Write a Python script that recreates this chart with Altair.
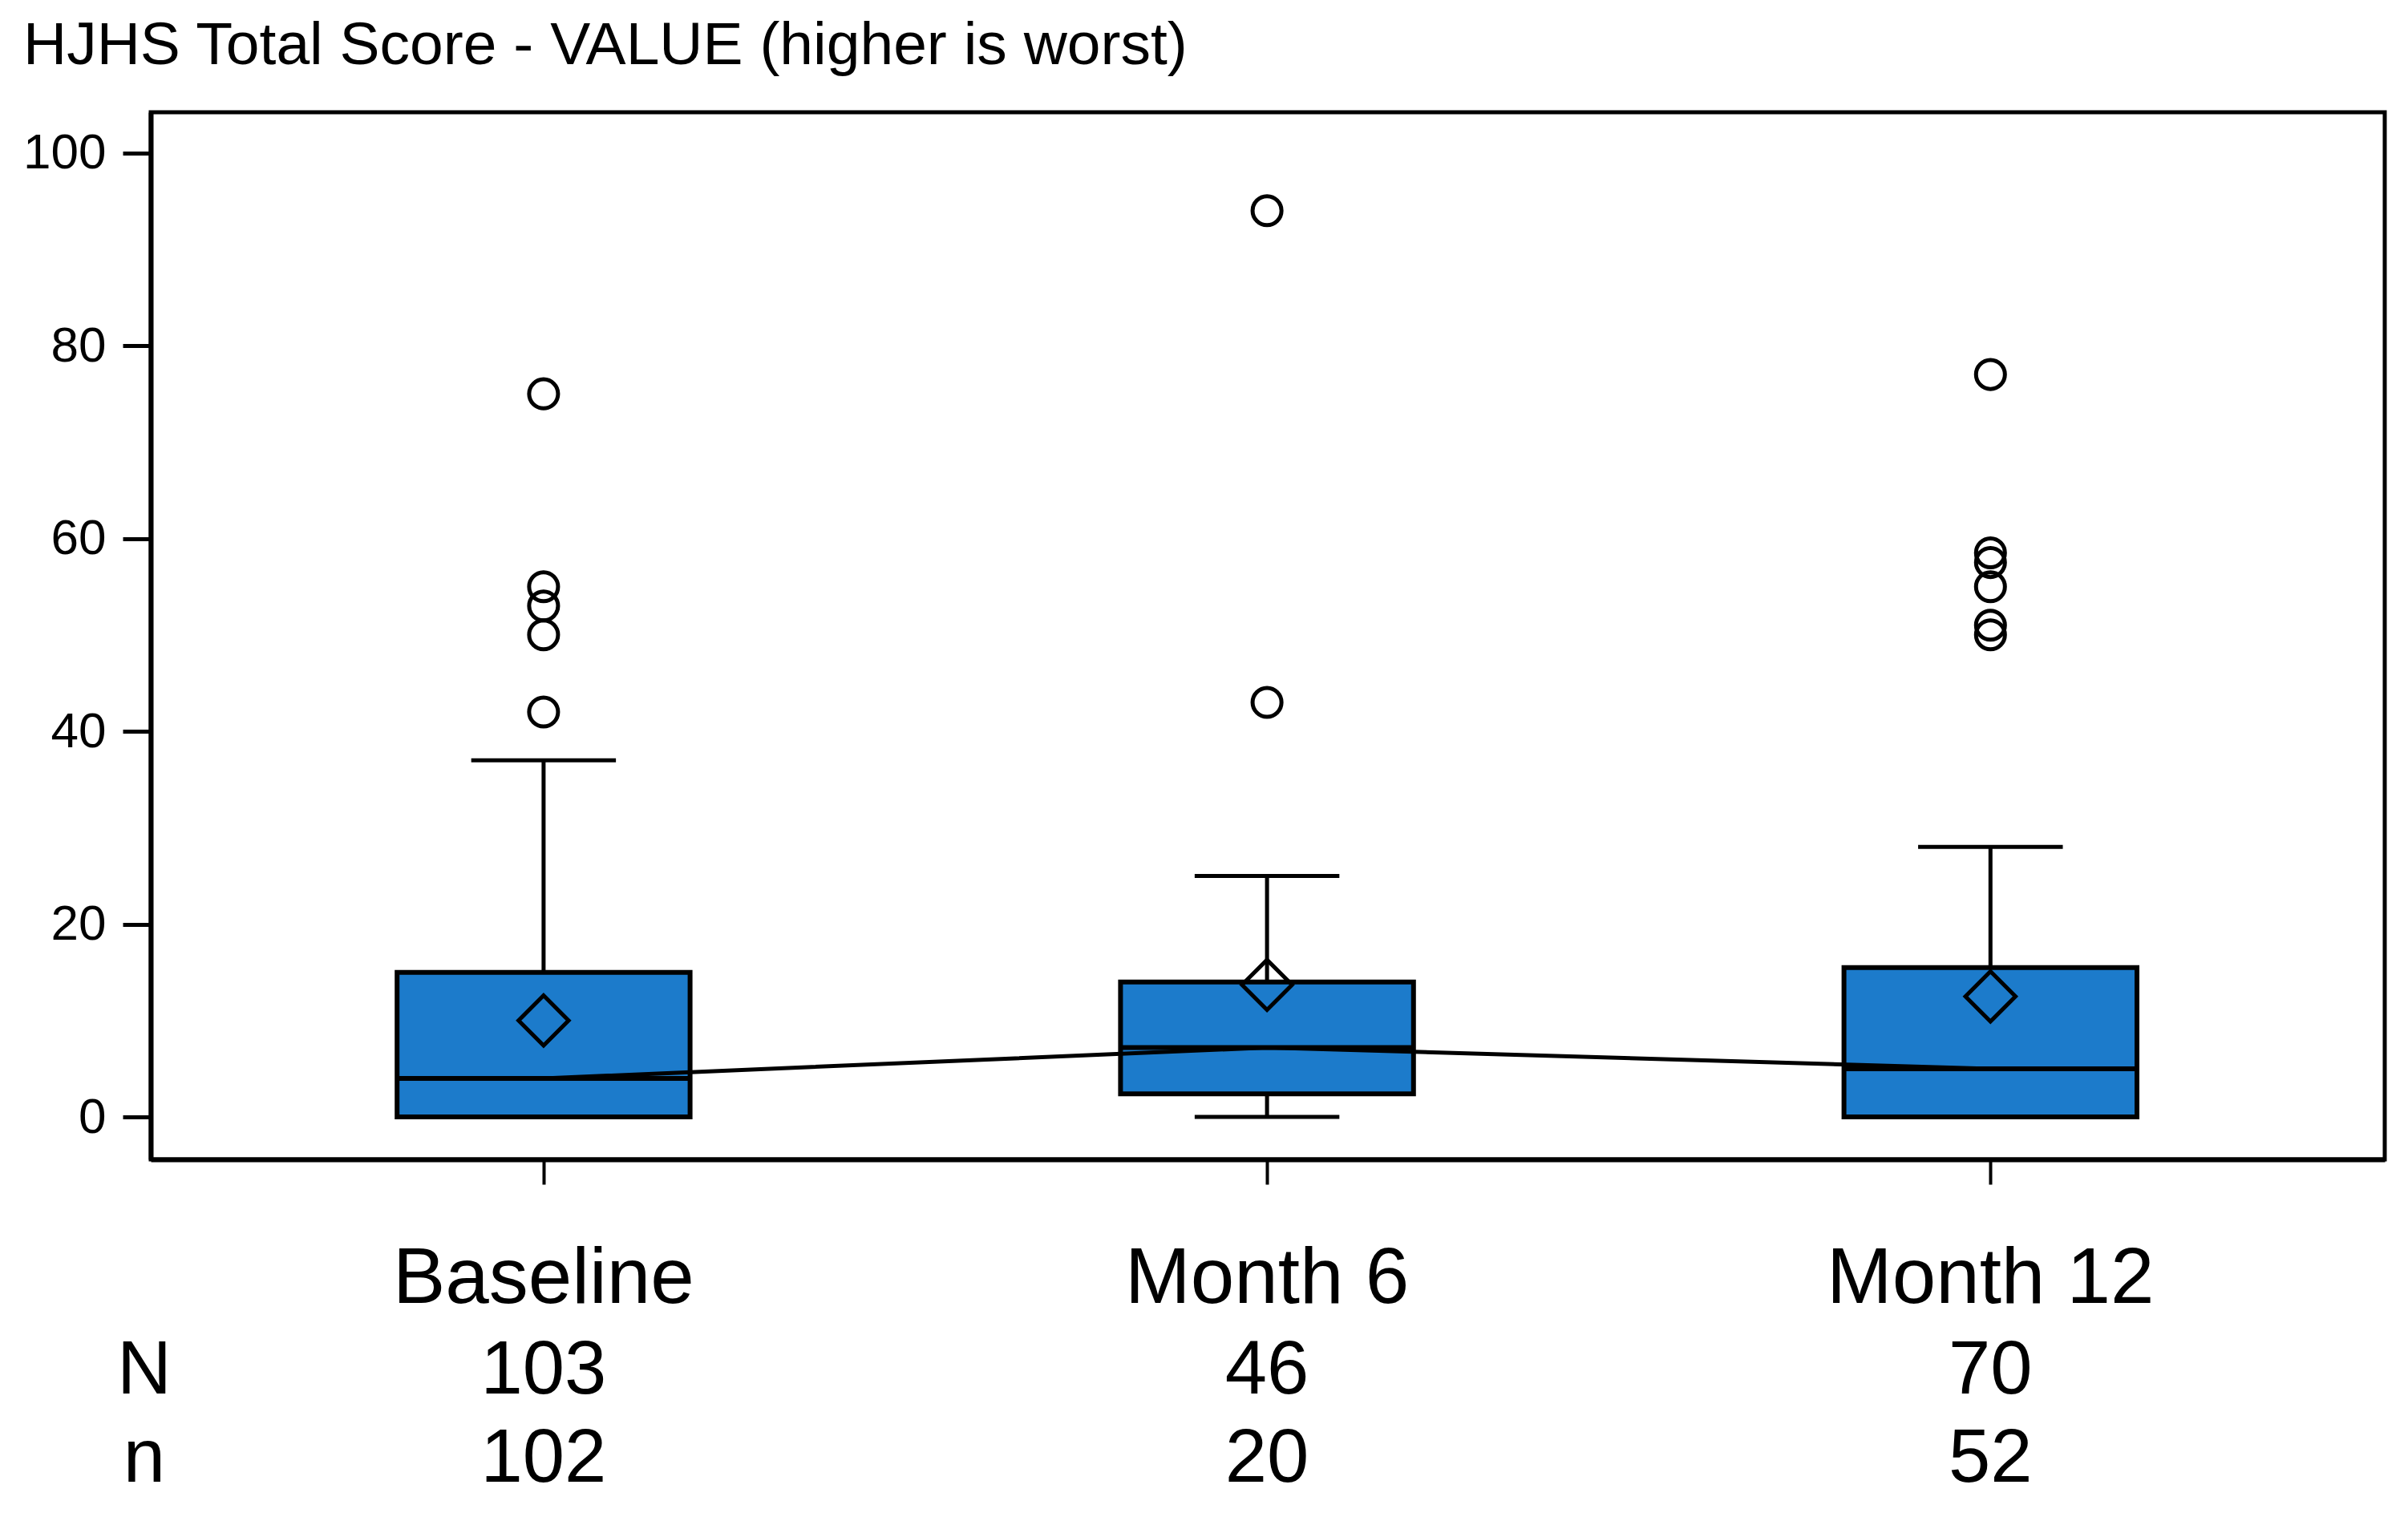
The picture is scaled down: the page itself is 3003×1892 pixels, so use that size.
import altair as alt
import pandas as pd

# ---- data ----
categories = ["Baseline", "Month 6", "Month 12"]
cat_index = [0, 1, 2]
q1 = [0, 2.4, 0]
median = [4, 7.2, 5]
q3 = [15, 14, 15.5]
mean = [10, 13.7, 12.5]
whisker_low = [0, 0, 0]
whisker_high = [37, 25, 28]
N_values = [103, 46, 70]
n_values = [102, 20, 52]

outliers_baseline = [75, 55, 53, 50, 42]
outliers_month6 = [94, 43]
outliers_month12 = [77, 58.5, 57.5, 55, 51, 50]

title_text = "HJHS Total Score - VALUE (higher is worst)"
y_ticks = [0, 20, 40, 60, 80, 100]

FONT = "Liberation Sans"
BLUE = "#1c7bcb"

box_df = pd.DataFrame({
    "idx": cat_index, "category": categories, "q1": q1, "median": median,
    "q3": q3, "mean": mean, "lo": whisker_low, "hi": whisker_high,
    "N": N_values, "n": n_values,
})
out_rows = []
for i, vals in zip(cat_index, [outliers_baseline, outliers_month6, outliers_month12]):
    for v in vals:
        out_rows.append({"idx": i, "value": v})
out_df = pd.DataFrame(out_rows)

xscale = alt.Scale(domain=[-0.543, 2.545], nice=False, zero=False)
yscale = alt.Scale(domain=[-4.4, 104.2], nice=False, zero=False)
xaxis = alt.Axis(values=[0, 1, 2], labels=False, title=None, grid=False,
                 tickSize=31, tickWidth=4, tickColor="black",
                 domainColor="black", domainWidth=6)
yaxis = alt.Axis(values=y_ticks, title=None, grid=False, tickSize=35, tickWidth=5,
                 tickColor="black", domainColor="black", domainWidth=6,
                 labelFontSize=62, labelFont=FONT, labelColor="black",
                 labelPadding=21)

base = alt.Chart(box_df).transform_calculate(
    lo_x="datum.idx - 0.2025", hi_x="datum.idx + 0.2025",
    cap_lo="datum.idx - 0.1", cap_hi="datum.idx + 0.1",
)

LW = 5

whisk_up = base.mark_rule(color="black", strokeWidth=LW).encode(
    x=alt.X("idx:Q", scale=xscale, axis=xaxis),
    y=alt.Y("q3:Q", scale=yscale, axis=yaxis),
    y2="hi:Q",
)
whisk_down = base.mark_rule(color="black", strokeWidth=LW).encode(
    x=alt.X("idx:Q", scale=xscale, axis=xaxis),
    y=alt.Y("lo:Q", scale=yscale, axis=yaxis),
    y2="q1:Q",
)
cap_up = base.mark_rule(color="black", strokeWidth=LW).encode(
    x=alt.X("cap_lo:Q", scale=xscale, axis=xaxis), x2="cap_hi:Q",
    y=alt.Y("hi:Q", scale=yscale, axis=yaxis),
)
cap_down = base.mark_rule(color="black", strokeWidth=LW).encode(
    x=alt.X("cap_lo:Q", scale=xscale, axis=xaxis), x2="cap_hi:Q",
    y=alt.Y("lo:Q", scale=yscale, axis=yaxis),
)
boxes = base.mark_rect(fill=BLUE, stroke="black", strokeWidth=6).encode(
    x=alt.X("lo_x:Q", scale=xscale, axis=xaxis), x2="hi_x:Q",
    y=alt.Y("q1:Q", scale=yscale, axis=yaxis), y2="q3:Q",
)
med_lines = base.mark_rule(color="black", strokeWidth=6).encode(
    x=alt.X("lo_x:Q", scale=xscale, axis=xaxis), x2="hi_x:Q",
    y=alt.Y("median:Q", scale=yscale, axis=yaxis),
)
connect = alt.Chart(box_df).mark_line(color="black", strokeWidth=5).encode(
    x=alt.X("idx:Q", scale=xscale, axis=xaxis),
    y=alt.Y("median:Q", scale=yscale, axis=yaxis),
)
means = alt.Chart(box_df).mark_point(shape="diamond", size=3900, filled=False,
                                     color="black", strokeWidth=5, opacity=1).encode(
    x=alt.X("idx:Q", scale=xscale, axis=xaxis),
    y=alt.Y("mean:Q", scale=yscale, axis=yaxis),
)
outs = alt.Chart(out_df).mark_point(shape="circle", size=1300, filled=False,
                                    color="black", strokeWidth=5, opacity=1).encode(
    x=alt.X("idx:Q", scale=xscale, axis=xaxis),
    y=alt.Y("value:Q", scale=yscale, axis=yaxis),
)

cat_labels = alt.Chart(box_df).mark_text(fontSize=98, font=FONT, color="black",
                                         baseline="alphabetic").encode(
    x=alt.X("idx:Q", scale=xscale, axis=xaxis),
    y=alt.value(1485), text="category:N",
)
N_labels = alt.Chart(box_df).mark_text(fontSize=94, font=FONT, color="black",
                                       baseline="alphabetic").encode(
    x=alt.X("idx:Q", scale=xscale, axis=xaxis),
    y=alt.value(1598), text="N:N",
)
n_labels = alt.Chart(box_df).mark_text(fontSize=94, font=FONT, color="black",
                                       baseline="alphabetic").encode(
    x=alt.X("idx:Q", scale=xscale, axis=xaxis),
    y=alt.value(1708), text="n:N",
)
row_heads = alt.Chart(pd.DataFrame({"lab": ["N", "n"], "ypos": [1598, 1708]})).mark_text(
    fontSize=94, font=FONT, color="black", baseline="alphabetic").encode(
    x=alt.value(-8), y=alt.Y("ypos:Q", scale=None), text="lab:N",
)
title = alt.Chart(pd.DataFrame({"t": [title_text]})).mark_text(
    fontSize=75, font=FONT, color="black", align="left", baseline="alphabetic").encode(
    x=alt.value(-159), y=alt.value(-60), text="t:N",
)

chart = alt.layer(
    whisk_up, whisk_down, boxes, med_lines, connect, cap_up, cap_down, means, outs,
    cat_labels, N_labels, n_labels, row_heads, title,
).properties(
    width=2786, height=1306,
    background="white",
    autosize=alt.AutoSizeParams(type="none"),
    padding={"left": 180, "top": 132, "right": 20, "bottom": 430},
).configure_view(
    stroke="black", strokeWidth=5
)

chart.save("out.html", embed_options={"renderer": "svg", "actions": False})
